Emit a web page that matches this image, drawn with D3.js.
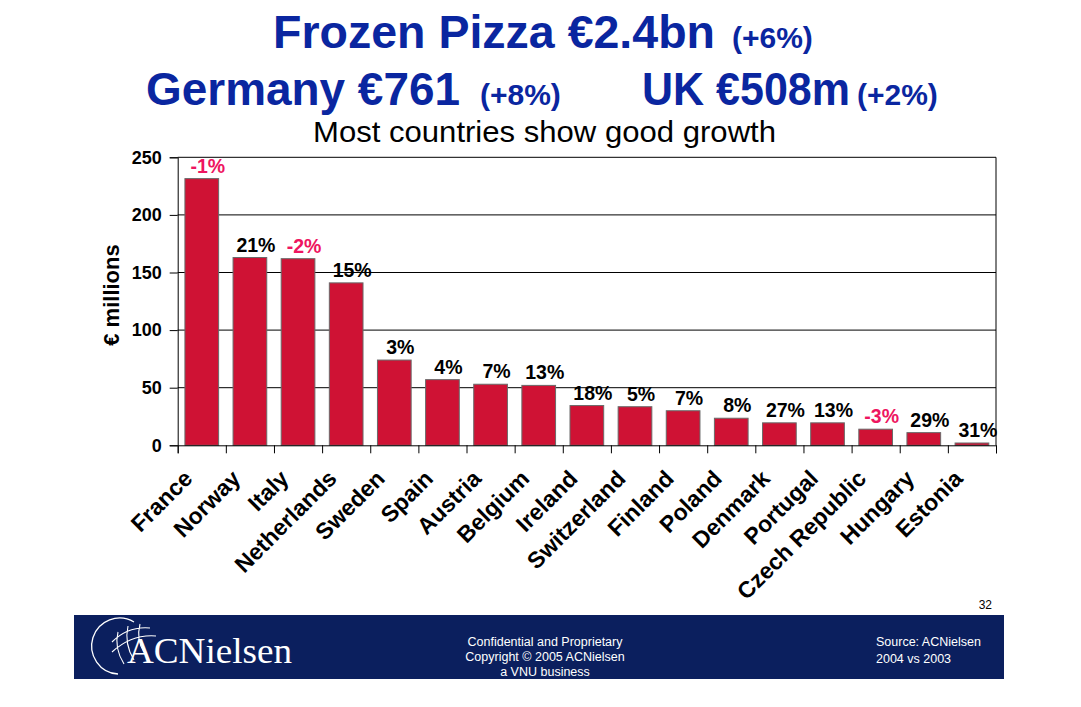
<!DOCTYPE html>
<html>
<head>
<meta charset="utf-8">
<script src="https://cdn.jsdelivr.net/npm/d3@7/dist/d3.min.js"></script>
<style>
  html, body { margin: 0; padding: 0; background: #ffffff; }
  svg { display: block; font-family: Arial, "Liberation Sans", sans-serif; }
</style>
</head>
<body>
<svg id="chart" width="1081" height="707"></svg>
<script>
// ---- data ----
const categories = ["France", "Norway", "Italy", "Netherlands", "Sweden", "Spain", "Austria", "Belgium",
  "Ireland", "Switzerland", "Finland", "Poland", "Denmark", "Portugal", "Czech Republic", "Hungary", "Estonia"];
const values = [231.5, 163, 162, 141, 74, 57, 53, 52, 34.5, 33.5, 30, 23.5, 19.5, 19.5, 14, 11, 2];
const growthLabels = ["-1%", "21%", "-2%", "15%", "3%", "4%", "7%", "13%", "18%", "5%", "7%", "8%",
  "27%", "13%", "-3%", "29%", "31%"];
const yTicks = [0, 50, 100, 150, 200, 250];
const yTitle = "€ millions";
const titleMain = ["Frozen Pizza €2.4bn", "Germany €761", "UK €508m"];
const titleGrowth = ["(+6%)", "(+8%)", "(+2%)"];
const subtitle = "Most countries show good growth";
const footerCenter = ["Confidential and Proprietary", "Copyright © 2005 ACNielsen", "a VNU business"];
const footerRight = ["Source: ACNielsen", "2004 vs 2003"];
const pageNumber = "32";

// ---- layout ----
const svg = d3.select("#chart");
const plot = { left: 177.7, right: 996, top: 157.3, bottom: 445.3 };
const blue = "#0a26a0";
const barFill = "#cf1234";
const negColor = "#ee1560";

// titles (main part, growth part) placed as separate text runs
const titlePos = [
  { x: 273, y: 48, w: 442, gx: 732 },
  { x: 146, y: 105, w: 314, gx: 480 },
  { x: 642, y: 105, w: 208, gx: 857 }
];
titleMain.forEach((t, i) => {
  const p = titlePos[i];
  svg.append("text").attr("x", p.x).attr("y", p.y)
    .attr("fill", blue).attr("font-weight", "bold").attr("font-size", 46)
    .attr("textLength", p.w).attr("lengthAdjust", "spacingAndGlyphs")
    .text(t);
  svg.append("text").attr("x", p.gx).attr("y", p.y)
    .attr("fill", blue).attr("font-weight", "bold").attr("font-size", 30)
    .text(titleGrowth[i]);
});

svg.append("text").attr("x", 544.5).attr("y", 142).attr("text-anchor", "middle")
  .attr("font-size", 29).attr("fill", "#000")
  .attr("textLength", 463).attr("lengthAdjust", "spacingAndGlyphs")
  .text(subtitle);

// scales
const x = d3.scaleBand().domain(categories).range([plot.left, plot.right])
  .paddingInner(0.3).paddingOuter(0.15);
const y = d3.scaleLinear().domain([0, 250]).range([plot.bottom, plot.top]);
const xb = d3.scaleLinear().domain([0, categories.length]).range([plot.left, plot.right]);

// gridlines
svg.append("g").selectAll("line").data(yTicks.filter(d => d > 0)).join("line")
  .attr("x1", plot.left).attr("x2", plot.right)
  .attr("y1", d => y(d)).attr("y2", d => y(d))
  .attr("stroke", "#000").attr("stroke-width", 1);
// right border
svg.append("line").attr("x1", plot.right).attr("x2", plot.right)
  .attr("y1", plot.top).attr("y2", plot.bottom).attr("stroke", "#000");

// bars
svg.append("g").selectAll("rect").data(categories).join("rect")
  .attr("x", d => x(d))
  .attr("y", (d, i) => y(values[i]))
  .attr("width", x.bandwidth())
  .attr("height", (d, i) => y(0) - y(values[i]))
  .attr("fill", barFill)
  .attr("stroke", "#6a6a6a").attr("stroke-width", 1);

// y axis
const yAxis = svg.append("g").attr("transform", `translate(${plot.left},0)`)
  .call(d3.axisLeft(y).tickValues(yTicks).tickSize(8).tickPadding(8).tickFormat(d3.format("d")));
yAxis.select(".domain").attr("stroke", "#000");
yAxis.selectAll(".tick line").attr("stroke", "#000");
yAxis.selectAll(".tick text").attr("font-size", 18).attr("font-weight", "bold")
  .attr("font-family", "Arial, 'Liberation Sans', sans-serif").attr("fill", "#000");

// x axis (boundary ticks)
const xAxis = svg.append("g").attr("transform", `translate(0,${plot.bottom})`)
  .call(d3.axisBottom(xb).tickValues(d3.range(categories.length + 1)).tickSize(8).tickFormat(""));
xAxis.select(".domain").attr("stroke", "#000");
xAxis.selectAll(".tick line").attr("stroke", "#000");

// category labels
svg.append("g").selectAll("text").data(categories).join("text")
  .attr("transform", d => `translate(${x(d) + x.bandwidth() / 2 - 8},480) rotate(-45)`)
  .attr("text-anchor", "end")
  .attr("font-size", 23).attr("font-weight", "bold").attr("fill", "#000")
  .text(d => d);

// growth labels
svg.append("g").selectAll("text").data(categories).join("text")
  .attr("x", d => x(d) + x.bandwidth() / 2 + 6)
  .attr("y", (d, i) => y(values[i]) - 6)
  .attr("text-anchor", "middle")
  .attr("font-size", 19.5).attr("font-weight", "bold")
  .attr("fill", (d, i) => growthLabels[i].startsWith("-") ? negColor : "#000")
  .text((d, i) => growthLabels[i]);

// y title
svg.append("text").attr("transform", "translate(119,295) rotate(-90)")
  .attr("text-anchor", "middle").attr("font-size", 22).attr("font-weight", "bold")
  .attr("fill", "#000").text(yTitle);

// page number
svg.append("text").attr("x", 992).attr("y", 609).attr("text-anchor", "end")
  .attr("font-size", 12).attr("fill", "#000").text(pageNumber);

// footer band
svg.append("rect").attr("x", 74).attr("y", 615).attr("width", 930).attr("height", 64)
  .attr("fill", "#0b1f5e");

svg.append("g").selectAll("text").data(footerCenter).join("text")
  .attr("x", 545).attr("y", (d, i) => 646 + i * 14.8)
  .attr("text-anchor", "middle").attr("font-size", 12.5).attr("fill", "#fff")
  .text(d => d);
svg.append("g").selectAll("text").data(footerRight).join("text")
  .attr("x", 876).attr("y", (d, i) => 646 + i * 16.5)
  .attr("font-size", 12.5).attr("fill", "#fff")
  .text(d => d);

// logo
const logo = svg.append("g");
logo.append("path")
  .attr("d", "M134,622 A28,28 0 1,0 118,674")
  .attr("fill", "none").attr("stroke", "#fff").attr("stroke-width", 1.3);
logo.append("path")
  .attr("d", "M112,642 Q128,626 150,628 M112,652 Q132,634 156,636 M118,632 Q114,648 124,664 M128,626 Q124,644 134,660 M140,624 Q136,640 144,652")
  .attr("fill", "none").attr("stroke", "#fff").attr("stroke-width", 1.1);
logo.append("text").attr("x", 127).attr("y", 663)
  .attr("font-family", "'Liberation Serif', 'Times New Roman', serif")
  .attr("font-size", 36).attr("fill", "#fff")
  .attr("textLength", 165).attr("lengthAdjust", "spacingAndGlyphs")
  .text("ACNielsen");
</script>
</body>
</html>
